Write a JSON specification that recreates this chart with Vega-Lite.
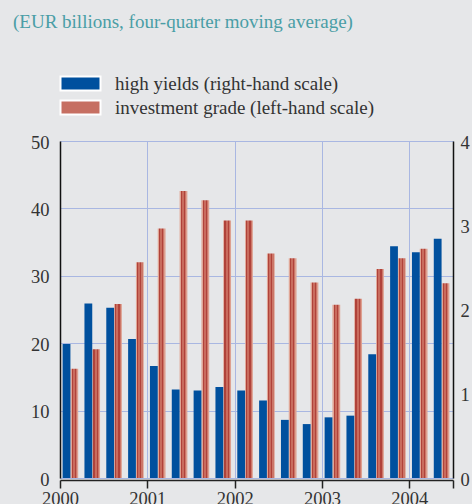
{
  "$schema": "https://vega.github.io/schema/vega-lite/v6.json",
  "width": 393,
  "height": 337,
  "autosize": {"type": "none"},
  "padding": {"left": 60, "top": 141, "right": 19, "bottom": 26},
  "background": "#e6e7e9",
  "config": {
    "view": {"stroke": null},
    "font": "Liberation Serif",
    "axis": {"labelFont": "Liberation Serif", "labelFontSize": 18.5, "labelColor": "#333333", "title": null, "gridColor": "#a9b7e2", "gridWidth": 1, "gridOpacity": 1}
  },
  "title": {
    "text": "(EUR billions, four-quarter moving average)",
    "anchor": "start",
    "frame": "group",
    "dx": -47,
    "offset": 42,
    "font": "Liberation Serif",
    "fontSize": 19,
    "fontWeight": "normal",
    "color": "#4a9ea6"
  },
  "data": {
    "values": [
      {"t": 2000.125, "hy": 1.59, "ig": 16.2},
      {"t": 2000.375, "hy": 2.07, "ig": 19.1},
      {"t": 2000.625, "hy": 2.02, "ig": 25.8},
      {"t": 2000.875, "hy": 1.65, "ig": 32.0},
      {"t": 2001.125, "hy": 1.33, "ig": 37.0},
      {"t": 2001.375, "hy": 1.05, "ig": 42.6},
      {"t": 2001.625, "hy": 1.04, "ig": 41.2},
      {"t": 2001.875, "hy": 1.08, "ig": 38.2},
      {"t": 2002.125, "hy": 1.04, "ig": 38.2},
      {"t": 2002.375, "hy": 0.92, "ig": 33.3},
      {"t": 2002.625, "hy": 0.69, "ig": 32.6},
      {"t": 2002.875, "hy": 0.64, "ig": 29.0},
      {"t": 2003.125, "hy": 0.72, "ig": 25.7},
      {"t": 2003.375, "hy": 0.74, "ig": 26.6},
      {"t": 2003.625, "hy": 1.47, "ig": 31.0},
      {"t": 2003.875, "hy": 2.75, "ig": 32.6},
      {"t": 2004.125, "hy": 2.68, "ig": 34.0},
      {"t": 2004.375, "hy": 2.84, "ig": 28.9}
    ]
  },
  "encoding": {
    "x": {
      "field": "t",
      "type": "quantitative",
      "scale": {"domain": [2000, 2004.5], "nice": false, "zero": false, "padding": 0},
      "axis": {
        "values": [2000, 2001, 2002, 2003, 2004, 2004.5],
        "tickCount": 20,
        "tickMinStep": 0.25,
        "labelExpr": "datum.value == 2004.5 ? '' : format(datum.value, 'd')",
        "grid": true,
        "tickSize": 8,
        "tickColor": "#222222",
        "tickWidth": 1.5,
        "domainColor": "#222222",
        "domainWidth": 1.5,
        "offset": 2,
        "labelPadding": 1,
        "labelFlush": false,
        "labelOverlap": false
      }
    }
  },
  "layer": [
    {
      "mark": {
        "type": "bar",
        "width": 7.8,
        "xOffset": 3.4,
        "fill": {
          "gradient": "linear", "x1": 0, "y1": 0, "x2": 1, "y2": 0,
          "stops": [
            {"offset": 0, "color": "#e0a696"},
            {"offset": 0.15, "color": "#e0a696"},
            {"offset": 0.15, "color": "#b0423a"},
            {"offset": 0.3, "color": "#b0423a"},
            {"offset": 0.3, "color": "#c96c5e"},
            {"offset": 0.55, "color": "#c96c5e"},
            {"offset": 0.55, "color": "#b0423a"},
            {"offset": 0.7, "color": "#b0423a"},
            {"offset": 0.7, "color": "#cc7668"},
            {"offset": 0.85, "color": "#cc7668"},
            {"offset": 0.85, "color": "#dda090"},
            {"offset": 1, "color": "#dda090"}
          ]
        }
      },
      "encoding": {
        "y": {
          "field": "ig",
          "type": "quantitative",
          "scale": {"domain": [0, 50], "nice": false},
          "axis": {
            "orient": "left",
            "values": [0, 10, 20, 30, 40, 50],
            "format": "d",
            "grid": true,
            "ticks": false,
            "domainColor": "#111111",
            "domainWidth": 1.5,
            "labelPadding": 11,
            "labelOffset": 1
          }
        }
      }
    },
    {
      "mark": {"type": "bar", "width": 7.8, "xOffset": -4.4},
      "encoding": {
        "y": {
          "field": "hy",
          "type": "quantitative",
          "scale": {"domain": [0, 4], "nice": false},
          "axis": {
            "orient": "right",
            "values": [0, 1, 2, 3, 4],
            "format": "d",
            "grid": false,
            "ticks": false,
            "domainColor": "#111111",
            "domainWidth": 1.5,
            "labelPadding": 7,
            "labelOffset": 1
          }
        },
        "color": {
          "datum": "high yields (right-hand scale)",
          "scale": {
            "domain": ["high yields (right-hand scale)", "investment grade (left-hand scale)"],
            "range": ["#00509e", "#c66f62"]
          },
          "legend": {
            "title": null,
            "orient": "none",
            "legendX": 11,
            "legendY": -67,
            "symbolType": "M-2.5,-0.875L2.5,-0.875L2.5,0.875L-2.5,0.875Z",
            "symbolSize": 256,
            "symbolStrokeColor": "white",
            "symbolStrokeWidth": 2,
            "symbolOpacity": 1,
            "labelFont": "Liberation Serif",
            "labelFontSize": 19,
            "labelColor": "#333333",
            "labelOffset": 25,
            "labelLimit": 400,
            "rowPadding": 1,
            "padding": 0
          }
        }
      }
    }
  ],
  "resolve": {"scale": {"y": "independent"}, "axis": {"y": "independent"}}
}
